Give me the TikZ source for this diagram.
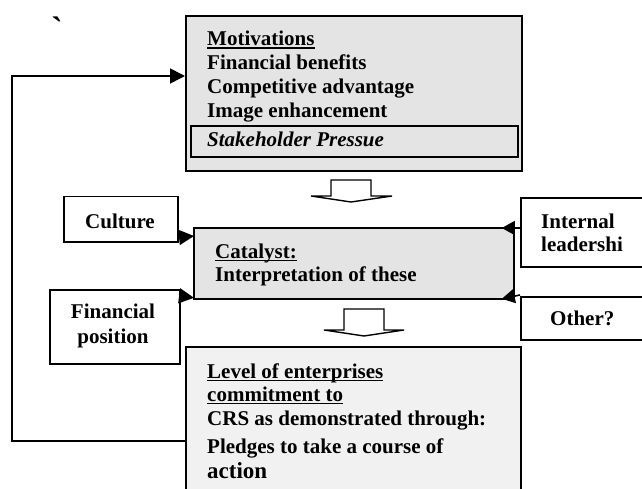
\documentclass[tikz,border=0pt]{standalone}
\usepackage{fontspec}
\setmainfont{Liberation Serif}
\newfontfamily\tickfont{Liberation Serif}
\usetikzlibrary{arrows.meta}
\definecolor{motfill}{HTML}{E4E4E4}
\definecolor{lvlfill}{HTML}{F1F1F1}
\newsavebox\ulbox
\newcommand\myul[1]{\sbox\ulbox{#1}\rlap{\rule[-2.6pt]{\wd\ulbox}{1.1pt}}\usebox\ulbox}
\begin{document}
\begin{tikzpicture}[x=1pt,y=-1pt,
  box/.style={draw, line width=1.5pt, inner sep=0pt, anchor=north west},
  txt/.style={anchor=base west, inner sep=0pt, font=\fontsize{21}{24}\selectfont\bfseries},
  ctxt/.style={anchor=base, inner sep=0pt, font=\fontsize{21}{24}\selectfont\bfseries},
  conn/.style={line width=1.6pt, -{Triangle[length=15pt,width=15pt]}},
  rconn/.style={line width=1.6pt, -{Triangle[length=13pt,width=14pt]}},
  hollow/.style={draw, line width=1.4pt, fill=white, line join=miter}]
\useasboundingbox (0,0) rectangle (642,489);
\clip (0,0) rectangle (642,489);

% boxes
\node[box, fill=motfill, line width=1.8pt, minimum width=336, minimum height=155] (mot) at (185,15) {};
\node[box, line width=1.8pt, minimum width=327, minimum height=31] (stk) at (190,125) {};
\node[box, minimum width=114, minimum height=45] (cult) at (63,196) {};
\node[box, fill=motfill, line width=1.8pt, minimum width=320, minimum height=71] (cat) at (193,227) {};
\node[box, minimum width=130, minimum height=74] (fin) at (49,289) {};
\node[box, minimum width=140, minimum height=69] (int) at (520,197) {};
\node[box, minimum width=140, minimum height=43] (oth) at (520,296) {};
\node[box, fill=lvlfill, line width=1.8pt, minimum width=335, minimum height=180] (lvl) at (185,346) {};

% texts
\node[anchor=north, inner sep=0pt, font=\fontsize{34}{36}\selectfont\bfseries\tickfont] (tick) at (57,17) {\symbol{96}};
\node[txt] (t1) at (207,46) {\myul{Motivations}};
\node[txt] (t2) at (207,70) {Financial benefits};
\node[txt] (t3) at (207,94) {Competitive advantage};
\node[txt] (t4) at (207,118) {Image enhancement};
\node[txt, font=\fontsize{21}{24}\selectfont\bfseries\itshape] (t5) at (207,147) {Stakeholder Pressue};
\node[ctxt] (tc) at (120,228) {Culture};
\node[txt] (tk1) at (215,258) {\myul{Catalyst:}};
\node[txt] (tk2) at (215,281) {Interpretation of these};
\node[ctxt] (tf1) at (113,318) {Financial};
\node[ctxt] (tf2) at (113,343) {position};
\node[txt] (ti1) at (541,228) {Internal};
\node[txt] (ti2) at (541,251) {leadershi};
\node[txt] (to) at (550,325) {Other?};
\node[txt] (tl1) at (207,378) {\myul{Level of enterprises}};
\node[txt] (tl2) at (207,401) {\myul{commitment to}};
\node[txt] (tl3) at (207,425) {CRS as demonstrated through:};
\node[txt] (tl4) at (207,453) {Pledges to take a course of};
\node[txt, font=\fontsize{23}{24}\selectfont\bfseries] (tl5) at (207,478) {action};

% hollow arrows
\draw[hollow] (331,180) -- (371,180) -- (371,196) -- (392,196) -- (351,202) -- (311,196) -- (331,196) -- cycle;
\draw[hollow] (344,309) -- (384,309) -- (384,330) -- (404,330) -- (364,336) -- (324,330) -- (344,330) -- cycle;

% connectors
\coordinate (fb1) at (12,441);
\coordinate (fb2) at (12,76);
\draw[conn] (lvl.north west |- fb1) -- (fb1) -- (fb2) -- (mot.north west |- fb2);
\draw[conn] ([yshift=5pt]cult.south east) -- ([yshift=-9pt,xshift=1pt]cat.north west);
\draw[conn] ([yshift=-7pt]fin.north east) -- ([yshift=2pt,xshift=1pt]cat.south west);
\draw[rconn] ([yshift=-31pt]int.north west) -- ([yshift=-1pt,xshift=-13pt]cat.north east);
\draw[rconn] ([yshift=1pt]oth.north west) -- ([yshift=1pt,xshift=-13pt]cat.south east);
\end{tikzpicture}
\end{document}
